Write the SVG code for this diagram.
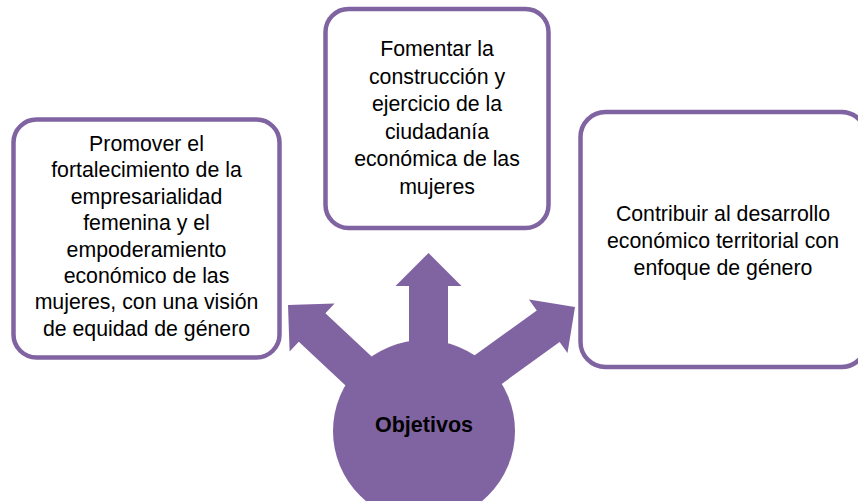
<svg xmlns="http://www.w3.org/2000/svg" width="858" height="501" viewBox="0 0 858 501">
<style>
.box{fill:#fff;stroke:#8064A2;stroke-width:4.5}
.t{font-family:"Liberation Sans",Arial,sans-serif;font-size:21.3px;fill:#000;text-anchor:middle}
.arrow{fill:#8064A2}
.hub{fill:#8064A2}
.hubt{font-family:"Liberation Sans",Arial,sans-serif;font-size:21.5px;font-weight:bold;fill:#000;text-anchor:middle}
</style>
<rect width="858" height="501" fill="#fff"/>
<g id="node-left">
<rect class="box" x="13.5" y="119.5" width="266" height="238" rx="23"/>
<text class="t" x="146.5"><tspan x="146.5" y="151">Promover el</tspan><tspan x="146.5" y="177.4">fortalecimiento de la</tspan><tspan x="146.5" y="203.8">empresarialidad</tspan><tspan x="146.5" y="230.2">femenina y el</tspan><tspan x="146.5" y="256.6">empoderamiento</tspan><tspan x="146.5" y="283">económico de las</tspan><tspan x="146.5" y="309.4">mujeres, con una visión</tspan><tspan x="146.5" y="335.8">de equidad de género</tspan></text>
</g>
<g id="node-top">
<rect class="box" x="325.5" y="9" width="223" height="219" rx="23"/>
<text class="t"><tspan x="437" y="56">Fomentar la</tspan><tspan x="437" y="83.6">construcción y</tspan><tspan x="437" y="111.2">ejercicio de la</tspan><tspan x="437" y="138.8">ciudadanía</tspan><tspan x="437" y="166.4">económica de las</tspan><tspan x="437" y="194">mujeres</tspan></text>
</g>
<g id="node-right">
<rect class="box" x="580.5" y="112" width="286" height="255" rx="25"/>
<text class="t"><tspan x="723" y="221">Contribuir al desarrollo</tspan><tspan x="723" y="248">económico territorial con</tspan><tspan x="723" y="275">enfoque de género</tspan></text>
</g>
<g id="connectors">
<polygon class="arrow" points="409,400 409,286 395.5,286 428.5,253 461.5,286 448,286 448,400"/>
<polygon class="arrow" points="288,305 334.6,303.4 325.4,313.3 396.2,379.6 369.6,408 298.8,341.7 289.6,351.6"/>
<polygon class="arrow" points="575,307 567.5,353.1 559.6,342.1 472.9,404.7 450.1,373.1 536.8,310.5 528.9,299.5"/>
</g>
<g id="node-hub">
<circle class="hub" cx="424" cy="431" r="91"/>
<text class="hubt" x="424" y="432">Objetivos</text>
</g>
</svg>
